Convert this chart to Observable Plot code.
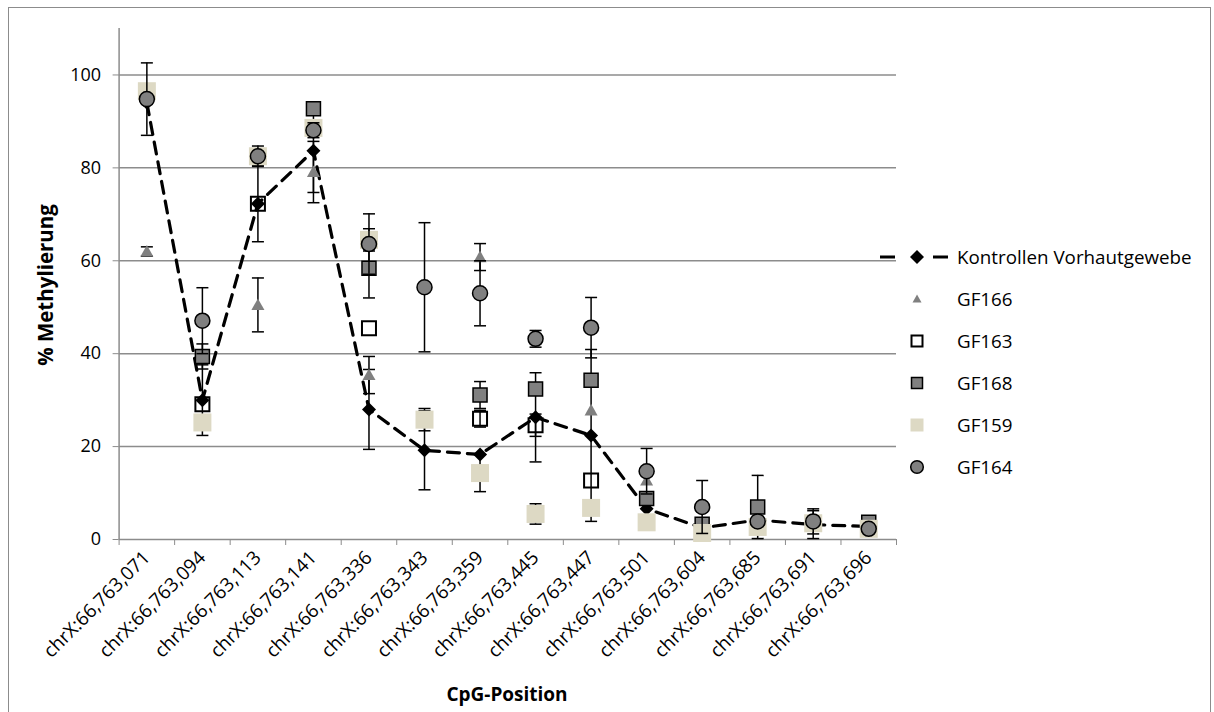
<!DOCTYPE html>
<html>
<head>
<meta charset="utf-8">
<script src="https://cdn.jsdelivr.net/npm/d3@7"></script>
<script src="https://cdn.jsdelivr.net/npm/@observablehq/plot@0.6"></script>
<style>
  html, body { margin: 0; padding: 0; background: #fff; }
  #chart { position: relative; width: 1214px; height: 712px; overflow: hidden; font-family: "Open Sans", sans-serif; color: #000; }
  #frame { position: absolute; left: 8px; top: 7px; width: 1203px; height: 730px; border: 1.5px solid #8c8c8c; box-sizing: border-box; }
  #plot, #legend { position: absolute; left: 0; top: 0; }
  .title { position: absolute; font-weight: 700; white-space: nowrap; }
  #ytitle { left: 45px; top: 285px; font-size: 20.5px; transform: translate(-50%, -50%) rotate(-90deg); }
  #xtitle { left: 507px; top: 694px; font-size: 19px; transform: translate(-50%, -50%); }
</style>
</head>
<body>
<div id="chart">
  <div id="frame"></div>
  <div id="plot"></div>
  <svg id="legend" width="1214" height="712"></svg>
  <div class="title" id="ytitle">% Methylierung</div>
  <div class="title" id="xtitle">CpG-Position</div>
</div>
<script>
// CpG positions on the x axis
const positions = [
  "chrX:66,763,071", "chrX:66,763,094", "chrX:66,763,113", "chrX:66,763,141",
  "chrX:66,763,336", "chrX:66,763,343", "chrX:66,763,359", "chrX:66,763,445",
  "chrX:66,763,447", "chrX:66,763,501", "chrX:66,763,604", "chrX:66,763,685",
  "chrX:66,763,691", "chrX:66,763,696"
];

const seriesNames = ["Kontrollen Vorhautgewebe", "GF166", "GF163", "GF168", "GF159", "GF164"];

// % methylation per CpG (null = no value) and error (±)
const kontrollen    = [94.0, 30.0, 72.3, 83.7, 28.0, 19.2, 18.3, 26.3, 22.4, 6.6, 2.5, 4.2, 3.2, 2.8];
const kontrollenErr = [null, 7.6, 8.2, 9.0, 8.6, 8.5, null, 9.6, 18.5, null, 2.0, null, 3.0, null];

const gf166    = [62.0, null, 50.5, 79.1, 35.4, null, 60.8, null, 27.8, 12.7, null, null, null, null];
const gf166Err = [1.0, null, 5.8, 6.6, 4.0, null, 2.9, null, null, null, null, null, null, null];

const gf163    = [null, 29.1, 72.3, null, 45.5, null, 26.0, 24.6, 12.7, null, null, null, null, null];
const gf163Err = [null, null, null, null, null, null, 1.8, 2.4, null, null, null, null, null, null];

const gf168    = [null, 39.4, null, 92.7, 58.4, null, 31.1, 32.4, 34.3, 8.8, 3.3, 7.0, null, 3.7];
const gf168Err = [null, 2.7, null, null, 6.4, null, 2.9, null, null, null, null, 6.8, null, null];

const gf159    = [96.5, 25.2, 82.5, 88.6, 64.5, 25.8, 14.3, 5.5, 6.8, 3.7, 1.4, 2.7, 3.5, 2.3];
const gf159Err = [null, null, null, null, 2.4, 2.4, 4.0, 2.2, null, null, null, null, null, null];

const gf164    = [94.8, 47.1, 82.5, 88.1, 63.6, 54.3, 53.0, 43.2, 45.6, 14.7, 7.0, 3.9, 3.9, 2.3];
const gf164Err = [7.8, 7.1, 2.2, 1.6, 6.5, 13.9, 7.0, 1.8, 6.5, 4.9, 5.7, null, 2.7, null];

const yTicks = [0, 20, 40, 60, 80, 100];

// marker shapes drawn around the data point; r is derived from the size Plot passes in
const shape = draw => ({ draw(ctx, size) { draw(ctx, Math.sqrt(size / Math.PI)); } });
const diamond = shape((c, r) => { c.moveTo(0, -r); c.lineTo(r, 0); c.lineTo(0, r); c.lineTo(-r, 0); c.closePath(); });
const square = shape((c, r) => { c.moveTo(-r, -r); c.lineTo(r, -r); c.lineTo(r, r); c.lineTo(-r, r); c.closePath(); });
const triangle = shape((c, r) => { c.moveTo(0, -r); c.lineTo(r, r * 0.78); c.lineTo(-r, r * 0.78); c.closePath(); });
const circle = shape((c, r) => { c.moveTo(r, 0); c.arc(0, 0, r, 0, 2 * Math.PI); c.closePath(); });
const cap = shape((c, r) => { c.moveTo(-r, 0); c.lineTo(r, 0); });

const series = [
  { name: seriesNames[0], values: kontrollen, err: kontrollenErr, symbol: diamond, r: 7, lr: 7, fill: "#000", stroke: "none", line: true },
  { name: seriesNames[1], values: gf166, err: gf166Err, symbol: triangle, r: 6.5, lr: 4.5, fill: "#808080", stroke: "none" },
  { name: seriesNames[2], values: gf163, err: gf163Err, symbol: square, r: 7, lr: 5.5, fill: "none", stroke: "#000", sw: 2 },
  { name: seriesNames[3], values: gf168, err: gf168Err, symbol: square, r: 7, lr: 5.5, fill: "#808080", stroke: "#000", sw: 1.5 },
  { name: seriesNames[4], values: gf159, err: gf159Err, symbol: square, r: 9, lr: 6.5, fill: "#ddd9c4", stroke: "none" },
  { name: seriesNames[5], values: gf164, err: gf164Err, symbol: circle, r: 7.5, lr: 6.3, fill: "#808080", stroke: "#000", sw: 1.5 }
];

const rowsOf = s => s.values
  .map((v, i) => ({ x: i + 0.5, y: v, e: s.err[i] }))
  .filter(d => d.y != null);

const GRID = "#8c8c8c";
const marks = [
  Plot.gridY(yTicks.filter(t => t > 0), { stroke: GRID, strokeOpacity: 1, strokeWidth: 1.5 }),
  Plot.ruleX([0], { stroke: GRID, strokeWidth: 1.5 }),
  Plot.ruleY([0], { stroke: GRID, strokeWidth: 1.5 }),
  Plot.axisY({ ticks: yTicks, tickSize: 6, tickPadding: 12, stroke: GRID, fill: "#000", fontSize: 18, label: null }),
  // category boundary ticks
  Plot.axisX({ ticks: d3.range(positions.length + 1), tickSize: 6, tickFormat: () => "", stroke: GRID, label: null }),
  // category labels centred on each band
  Plot.axisX({
    ticks: d3.range(positions.length).map(i => i + 0.5),
    tickSize: 0, tickPadding: 15, tickRotate: -45,
    tickFormat: d => positions[Math.floor(d)],
    fill: "#000", fontSize: 19, label: null
  })
];

for (const s of series) {
  const rows = rowsOf(s);
  const withErr = rows.filter(d => d.e != null);
  marks.push(
    Plot.ruleX(withErr, { x: "x", y1: d => d.y - d.e, y2: d => d.y + d.e, stroke: "#000", strokeWidth: 1.5 }),
    Plot.dot(withErr, { x: "x", y: d => d.y + d.e, symbol: cap, r: 6, stroke: "#000", strokeWidth: 1.5, fill: "none" }),
    Plot.dot(withErr, { x: "x", y: d => d.y - d.e, symbol: cap, r: 6, stroke: "#000", strokeWidth: 1.5, fill: "none" })
  );
  if (s.line) {
    marks.push(Plot.line(rows, { x: "x", y: "y", stroke: "#000", strokeWidth: 3.2, strokeDasharray: "12,8" }));
  }
  marks.push(Plot.dot(rows, {
    x: "x", y: "y", symbol: s.symbol, r: s.r,
    fill: s.fill, stroke: s.stroke, strokeWidth: s.sw || 0
  }));
}

const chart = Plot.plot({
  width: 1214,
  height: 712,
  marginLeft: 118.6,
  marginRight: 318,
  marginTop: 28,
  marginBottom: 173,
  style: { fontFamily: "Open Sans, sans-serif", background: "transparent", overflow: "visible" },
  x: { type: "linear", domain: [0, positions.length] },
  y: { domain: [0, 110] },
  marks
});
document.getElementById("plot").append(chart);

// legend at the right of the plot area
const legend = d3.select("#legend");
const lx = 917, ly0 = 257, lstep = 42;
series.forEach((s, k) => {
  const y = ly0 + k * lstep;
  const g = legend.append("g").attr("transform", `translate(${lx},${y})`);
  if (s.line) {
    g.append("line").attr("x1", -37).attr("x2", 34).attr("y1", 0).attr("y2", 0)
      .attr("stroke", "#000").attr("stroke-width", 3.2).attr("stroke-dasharray", "15,38");
  }
  const p = d3.path();
  s.symbol.draw(p, s.lr * s.lr * Math.PI);
  g.append("path").attr("d", p.toString())
    .attr("fill", s.fill).attr("stroke", s.stroke).attr("stroke-width", s.sw || 0);
  legend.append("text").attr("x", 957).attr("y", y).attr("dy", "0.35em")
    .attr("font-family", "Open Sans, sans-serif").attr("font-size", 18.8).attr("fill", "#000")
    .text(s.name);
});
</script>
</body>
</html>
